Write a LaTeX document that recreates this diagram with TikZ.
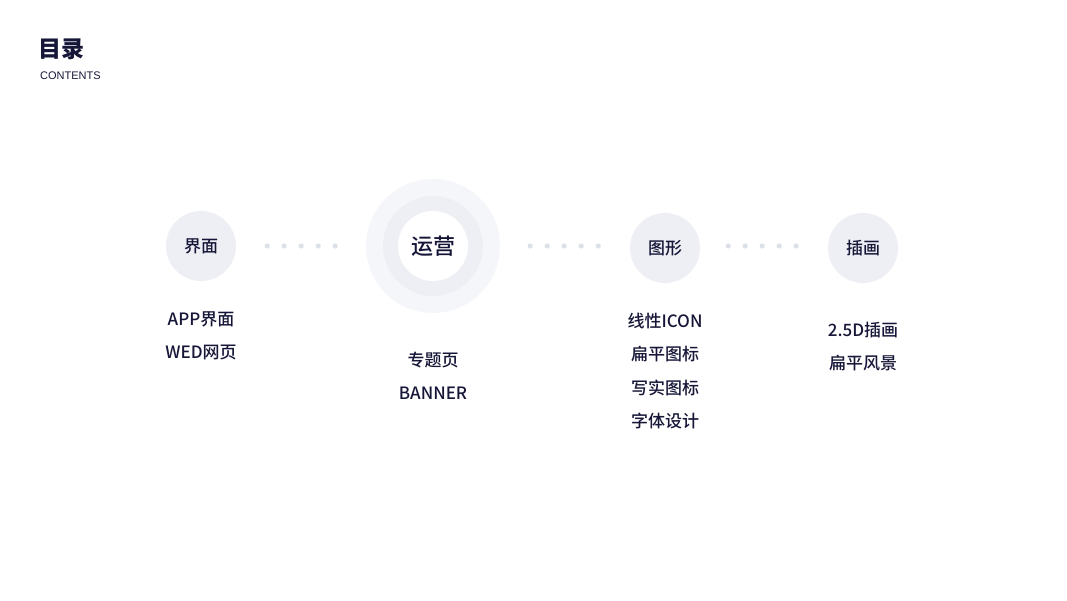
\documentclass[tikz,border=0pt]{standalone}
\usepackage{fontspec}
\setmainfont{Noto Sans CJK SC}
\newfontfamily\medfont{Noto Sans CJK SC Medium}
\setsansfont{Liberation Sans}
\definecolor{tcnavy}{RGB}{22,22,56}
\definecolor{tcring}{RGB}{238,239,244}
\definecolor{tchalo}{RGB}{245,246,250}
\definecolor{tcdot}{RGB}{220,225,231}
\usetikzlibrary{calc}

\begin{document}
\begin{tikzpicture}[x=1pt,y=-1pt,
  topic/.style={circle, fill=tcring, minimum size=70pt, inner sep=0pt, font=\medfont\fontsize{17}{17}\selectfont, text=tcnavy},
  item/.style={font=\medfont\fontsize{17}{17}\selectfont, text=tcnavy, anchor=center}]
  \useasboundingbox (0,0) rectangle (1067,600);

  % Title
  \node[font=\fontsize{23}{23}\selectfont\bfseries, text=tcnavy, anchor=west, inner sep=0pt] (title) at (38,49) {目录};
  \node[font=\sffamily\fontsize{11}{11}\selectfont, text=tcnavy, anchor=west, inner sep=0pt] (sub) at (40,76) {CONTENTS};

  % Topic 1
  \node[topic] (ui) at (201,246) {界面};
  \node[item] (ui1) at (201,319) {APP界面};
  \node[item] (ui2) at (201,352) {WED网页};

  % Topic 2 (highlighted)
  \fill[tchalo] (433,246) circle (67);
  \fill[tcring] (433,246) circle (50);
  \node[topic, fill=white, font=\medfont\fontsize{22}{22}\selectfont] (ops) at (433,246) {运营};
  \node[item] (ops1) at (433,360) {专题页};
  \node[item] (ops2) at (433,393) {BANNER};

  % Topic 3
  \node[topic] (gfx) at (665,248) {图形};
  \node[item] (gfx1) at (665,321) {线性ICON};
  \node[item] (gfx2) at (665,354) {扁平图标};
  \node[item] (gfx3) at (665,388) {写实图标};
  \node[item] (gfx4) at (665,421) {字体设计};

  % Topic 4
  \node[topic] (ill) at (863,248) {插画};
  \node[item] (ill1) at (863,330) {2.5D插画};
  \node[item] (ill2) at (863,363) {扁平风景};

  % Dotted links
  \foreach \i in {0,...,4} {
    \fill[tcdot] ($(ui.east)+(31+\i*17,0)$) circle (2.6);
    \fill[tcdot] ($(ops.east)+(62+\i*17,0)$) circle (2.6);
    \fill[tcdot] ($(gfx.east)+(28+\i*17,-2)$) circle (2.6);
  }
\end{tikzpicture}
\end{document}
